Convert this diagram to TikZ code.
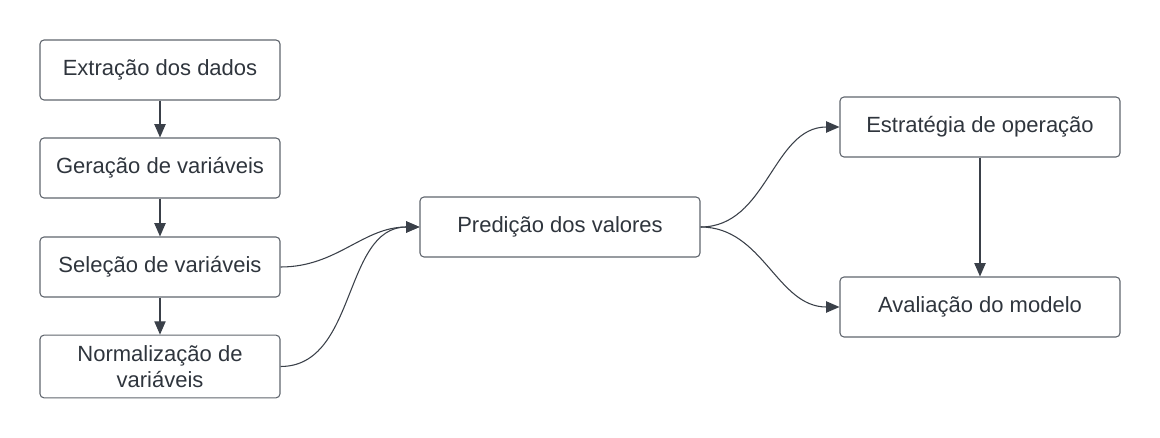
\documentclass[tikz,border=0pt]{standalone}
\usepackage{fontspec}
\setmainfont{Liberation Sans}
\usetikzlibrary{arrows.meta, positioning}
\definecolor{cline}{HTML}{3A4049}
\definecolor{cedge}{HTML}{5F656D}
\definecolor{ctext}{HTML}{2F353D}
\tikzset{
  every picture/.style={x=0.75pt, y=-0.75pt},
  box/.style={draw=cedge, line width=0.8pt, rounded corners=3pt, align=center,
    text=ctext, font=\fontsize{16.5}{20}\selectfont, minimum width=180pt, minimum height=45pt, inner sep=2pt},
  arrow/.style={-{Triangle[length=10pt, width=8.5pt]}, draw=cline, line width=0.8pt},
}
\begin{document}
\begin{tikzpicture}
  \useasboundingbox (0,0) rectangle (1160,438);
  \node[box] (ext) at (160,70) {Extração dos dados};
  \node[box] (ger) at (160,168) {Geração de variáveis};
  \node[box] (sel) at (160,267) {Seleção de variáveis};
  \node[box, minimum height=47pt] (nor) at (160,366.5) {Normalização de\\variáveis};
  \node[box, minimum width=210pt] (pred) at (560,227) {Predição dos valores};
  \node[box, minimum width=210pt] (estr) at (980,127) {Estratégia de operação};
  \node[box, minimum width=210pt] (aval) at (980,307) {Avaliação do modelo};
  % fluxo vertical
  \foreach \a/\b in {ext/ger, ger/sel, sel/nor, estr/aval} \draw[arrow] (\a) -- (\b);
  % ligacoes curvas
  \foreach \n in {sel,nor} \draw[arrow] (\n.east) to[out=0, in=180] (pred.west);
  \foreach \n in {estr,aval} \draw[arrow] (pred.east) to[out=0, in=180] (\n.west);
\end{tikzpicture}
\end{document}
